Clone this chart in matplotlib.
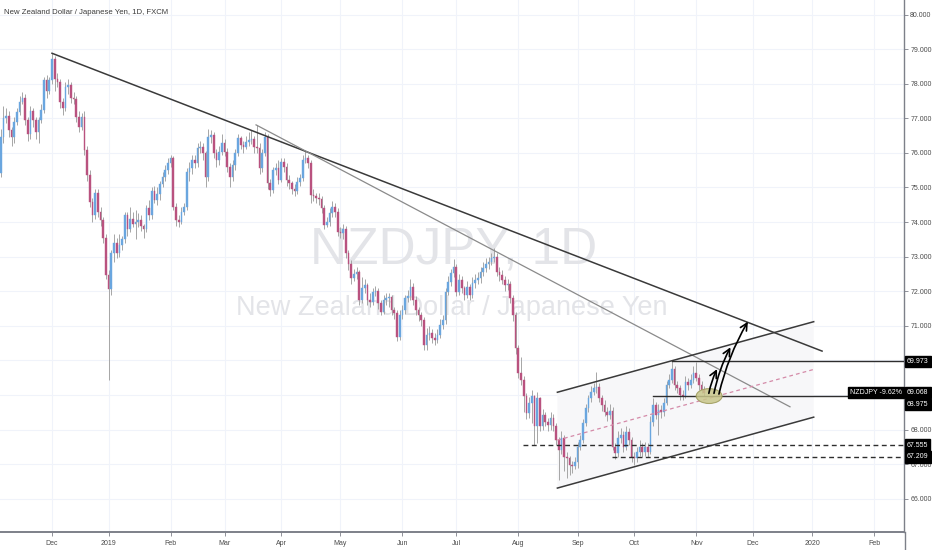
import numpy as np
import pandas as pd
import matplotlib
matplotlib.use("Agg")
import matplotlib.pyplot as plt
import matplotlib.transforms as mtransforms
from matplotlib import font_manager
from matplotlib.patches import Ellipse, FancyArrowPatch, Polygon
from matplotlib.lines import Line2D

# ---------------- data (NZDJPY daily) ----------------
start_date = "2018-11-05"
first_open = 75.20
closes = [
    75.42, 76.46, 77.00, 77.07, 76.66, 76.45, 76.90, 77.18, 77.47, 77.60,
    76.95, 76.55, 77.20, 76.95, 76.60, 76.95, 77.25, 78.10, 77.80, 78.10,
    78.70, 78.15, 78.05, 77.47, 77.30, 77.90, 77.95, 77.60, 77.55, 77.04,
    76.75, 77.04, 76.08, 75.36, 74.58, 74.20, 74.84, 74.30, 74.06, 73.54,
    72.47, 72.06, 73.10, 73.40, 73.10, 73.35, 73.50, 74.20, 73.80, 74.10,
    73.95, 74.00, 74.05, 73.90, 73.80, 74.40, 74.20, 74.90, 74.65, 74.80,
    75.10, 75.30, 75.50, 75.70, 75.85, 74.45, 74.05, 74.00, 74.30, 74.45,
    75.46, 75.55, 75.79, 75.70, 76.13, 76.18, 75.99, 75.31, 76.47, 76.52,
    75.99, 75.79, 76.04, 76.30, 76.04, 75.60, 75.31, 75.65, 75.99, 76.42,
    76.23, 76.18, 76.32, 76.37, 76.40, 76.18, 76.15, 75.55, 75.99, 76.47,
    75.12, 74.93, 75.50, 75.55, 75.22, 75.75, 75.60, 75.22, 75.12, 74.95,
    74.90, 75.17, 75.27, 75.80, 75.85, 75.70, 74.78, 74.75, 74.70, 74.68,
    74.40, 73.92, 74.00, 74.25, 74.45, 74.30, 73.72, 73.68, 73.80, 73.10,
    72.80, 72.37, 72.50, 72.55, 71.75, 72.09, 72.18, 71.75, 71.70, 71.99,
    72.00, 71.65, 71.41, 71.75, 71.80, 71.82, 71.46, 71.36, 70.69, 71.32,
    71.46, 71.80, 71.85, 72.13, 71.75, 71.46, 71.31, 71.17, 70.45, 70.74,
    70.80, 70.64, 70.60, 70.74, 71.03, 71.17, 71.99, 72.28, 72.52, 72.70,
    71.99, 72.33, 72.08, 71.90, 72.13, 71.90, 72.23, 72.33, 72.37, 72.57,
    72.66, 72.80, 72.86, 72.95, 73.00, 72.57, 72.47, 72.33, 72.18, 72.20,
    71.80, 71.30, 70.35, 69.63, 69.44, 68.96, 68.47, 68.76, 68.96, 68.09,
    68.90, 68.09, 68.42, 68.23, 68.13, 68.33, 68.09, 67.70, 67.41, 67.75,
    67.22, 67.17, 66.98, 66.95, 67.05, 67.51, 67.70, 68.18, 68.62, 68.90,
    69.10, 69.20, 69.24, 68.90, 68.71, 68.52, 68.42, 68.55, 67.51, 67.32,
    67.75, 67.85, 67.51, 67.94, 67.70, 67.22, 67.17, 67.36, 67.51, 67.36,
    67.50, 67.36, 68.23, 68.71, 68.42, 68.57, 68.50, 68.76, 69.29, 69.44,
    69.75, 69.29, 69.20, 69.00, 68.98, 69.39, 69.29, 69.44, 69.63, 69.50,
    69.29, 69.15, 69.068,
]
highs = [
    75.60, 76.70, 77.35, 77.30, 77.20, 76.75, 77.05, 77.30, 77.65, 77.75,
    77.70, 77.05, 77.35, 77.30, 77.05, 77.05, 77.40, 78.20, 78.25, 78.20,
    78.88, 78.80, 78.30, 78.15, 77.60, 78.05, 78.15, 78.05, 77.75, 77.65,
    77.20, 77.15, 77.20, 76.20, 75.50, 74.70, 74.95, 74.95, 74.45, 74.15,
    73.65, 72.60, 73.20, 73.65, 73.55, 73.65, 73.60, 74.30, 74.30, 74.45,
    74.30, 74.35, 74.25, 74.20, 73.95, 74.50, 74.65, 75.00, 75.05, 75.00,
    75.20, 75.45, 75.65, 75.85, 75.95, 75.90, 74.55, 74.20, 74.45, 74.55,
    75.55, 75.75, 75.95, 75.95, 76.30, 76.35, 76.30, 76.05, 76.70, 76.65,
    76.60, 76.10, 76.20, 76.55, 76.40, 76.15, 75.70, 75.80, 76.10, 76.55,
    76.50, 76.35, 76.50, 76.60, 76.65, 76.50, 76.80, 76.30, 76.10, 76.60,
    76.55, 75.25, 75.60, 75.70, 75.80, 75.85, 75.85, 75.70, 75.35, 75.20,
    75.10, 75.30, 75.40, 75.95, 76.05, 75.95, 75.80, 74.95, 74.85, 74.85,
    74.75, 74.50, 74.15, 74.40, 74.60, 74.55, 74.40, 73.85, 73.95, 73.90,
    73.20, 72.90, 72.65, 72.70, 72.60, 72.40, 72.35, 72.25, 71.95, 72.10,
    72.15, 72.10, 71.75, 71.90, 71.95, 71.95, 71.90, 71.55, 71.45, 71.45,
    71.60, 71.90, 72.05, 72.35, 72.25, 71.85, 71.55, 71.40, 71.25, 70.95,
    71.00, 70.90, 70.80, 70.90, 71.20, 71.30, 72.10, 72.45, 72.65, 72.92,
    72.80, 72.50, 72.45, 72.15, 72.30, 72.20, 72.40, 72.50, 72.55, 72.70,
    72.85, 72.95, 73.00, 73.10, 73.24, 73.10, 72.70, 72.60, 72.45, 72.35,
    72.30, 71.90, 71.40, 70.45, 70.10, 69.55, 69.05, 68.95, 69.15, 69.00,
    69.10, 68.95, 68.60, 68.50, 68.35, 68.50, 68.45, 68.20, 67.80, 67.95,
    67.85, 67.35, 67.25, 67.10, 67.20, 67.65, 67.85, 68.30, 68.75, 69.00,
    69.25, 69.35, 69.68, 69.35, 69.00, 68.85, 68.65, 68.75, 68.65, 67.60,
    67.95, 68.05, 67.95, 68.10, 68.05, 67.80, 67.35, 67.50, 67.70, 67.60,
    67.65, 67.60, 68.40, 68.90, 68.80, 68.75, 68.70, 68.90, 69.40, 69.60,
    69.97, 69.85, 69.40, 69.30, 69.15, 69.55, 69.50, 69.60, 69.85, 69.95,
    69.60, 69.40, 69.25,
]
lows = [
    75.00, 75.30, 76.30, 76.85, 76.45, 76.20, 76.30, 76.80, 77.10, 77.40,
    76.80, 76.35, 76.40, 76.75, 76.40, 76.30, 76.85, 77.15, 77.60, 77.70,
    78.00, 77.80, 77.90, 77.30, 77.10, 77.20, 77.70, 77.45, 77.40, 76.90,
    76.60, 76.65, 75.95, 75.20, 74.45, 74.00, 74.10, 74.15, 73.90, 73.40,
    72.35, 69.44, 71.90, 72.85, 72.95, 73.00, 73.20, 73.40, 73.60, 73.70,
    73.85, 73.50, 73.85, 73.75, 73.55, 73.70, 74.05, 74.10, 74.55, 74.50,
    74.65, 75.00, 75.20, 75.40, 75.60, 74.35, 73.90, 73.85, 73.95, 74.20,
    74.35, 75.20, 75.40, 75.55, 75.60, 76.00, 75.80, 75.00, 75.20, 76.30,
    75.85, 75.60, 75.65, 75.95, 75.90, 75.45, 75.00, 75.20, 75.50, 75.90,
    76.10, 76.00, 76.10, 76.20, 76.25, 76.00, 76.00, 75.40, 75.45, 75.90,
    74.95, 74.75, 74.85, 75.35, 75.10, 75.15, 75.45, 75.05, 74.95, 74.80,
    74.75, 74.80, 75.05, 75.20, 75.70, 75.55, 74.55, 74.60, 74.55, 74.50,
    74.25, 73.80, 73.85, 73.90, 74.15, 74.15, 73.60, 73.55, 73.50, 72.95,
    72.60, 72.20, 72.30, 72.35, 71.60, 71.65, 71.95, 71.60, 71.55, 71.60,
    71.85, 71.50, 71.30, 71.35, 71.60, 71.55, 71.30, 71.20, 70.55, 70.60,
    71.20, 71.35, 71.70, 71.75, 71.60, 71.30, 71.15, 71.00, 70.30, 70.30,
    70.60, 70.50, 70.45, 70.50, 70.65, 70.90, 71.05, 71.90, 72.15, 72.40,
    71.85, 71.90, 71.95, 71.75, 71.80, 71.75, 71.80, 72.10, 72.20, 72.25,
    72.45, 72.55, 72.65, 72.75, 72.85, 72.45, 72.30, 72.20, 72.00, 72.05,
    71.65, 71.15, 70.20, 69.50, 69.30, 68.50, 68.30, 68.35, 68.20, 67.55,
    67.60, 67.95, 68.00, 68.10, 67.95, 68.00, 67.95, 67.55, 66.55, 67.30,
    66.80, 66.60, 66.70, 66.75, 66.85, 66.90, 67.40, 67.60, 68.10, 68.50,
    68.80, 69.00, 69.05, 68.80, 68.55, 68.40, 68.25, 68.30, 67.40, 67.15,
    67.20, 67.60, 67.35, 67.40, 67.55, 67.05, 66.98, 67.05, 67.25, 67.20,
    67.25, 67.20, 67.30, 68.10, 68.30, 67.85, 68.35, 68.40, 68.70, 69.20,
    69.35, 69.15, 69.05, 68.85, 68.85, 68.90, 69.15, 69.20, 69.35, 69.40,
    69.15, 69.05, 68.98,
]

# drawing tools (bar index, price)
trend_long = [(20.0, 78.88), (305.7, 70.27)]
trend_thin = [(95.7, 76.81), (293.8, 68.66)]
channel_x = [207.5, 302.6]
channel_upper = [69.08, 71.12]
channel_lower = [66.31, 68.36]
h_solid = [(249.9, 69.973), (243.1, 68.975)]
h_dashed = [(194.9, 67.555), (227.9, 67.209)]
ellipse_center = (263.8, 68.97)
arrow_starts = [(263.5, 68.97), (265.4, 68.97), (267.2, 68.95)]
arrow_ends = [(267.2, 69.82), (272.2, 70.45), (278.7, 71.19)]
axis_marks = [("69.973", 69.973, 69.973), ("69.068", 69.068, 69.068),
              ("68.975", 68.975, 68.73), ("67.555", 67.555, 67.555),
              ("67.209", 67.209, 67.209)]
price_ticks = list(range(66, 81))
hidden_ticks = [69, 70]          # covered by the price-axis labels
last_label = "NZDJPY -9.62%"
title = "New Zealand Dollar / Japanese Yen, 1D, FXCM"
wm1 = "NZDJPY, 1D"
wm2 = "New Zealand Dollar / Japanese Yen"

# ---------------- fonts ----------------
names = {f.name for f in font_manager.fontManager.ttflist}
if "Liberation Sans Narrow" in names:
    FONT, narrow = "Liberation Sans Narrow", True
else:
    FONT, narrow = "Liberation Sans", False
plt.rcParams["font.family"] = [FONT, "DejaVu Sans"]
fs_wm1 = 43 if narrow else 37
fs_wm2 = 23 if narrow else 19.5
fs_title = 6.6 if narrow else 5.6
fs_tick = 5.6 if narrow else 5.0

# ---------------- figure ----------------
W, H = 932, 550
fig = plt.figure(figsize=(W / 100, H / 100), dpi=100)
fig.patch.set_facecolor("white")
ax = fig.add_axes([0, 18 / H, 904 / W, 532 / H])
ax.set_facecolor("white")

c = np.array(closes)
o = np.array([first_open] + closes[:-1])
hi = np.maximum(np.array(highs), np.maximum(o, c))
lo = np.minimum(np.array(lows), np.minimum(o, c))
xs = np.arange(len(c))

n_bars = 340
dates = pd.bdate_range(start_date, periods=n_bars)
tick_idx, tick_lab = [], []
for i in range(1, n_bars):
    if dates[i].month != dates[i - 1].month:
        tick_idx.append(i)
        tick_lab.append(str(dates[i].year) if dates[i].month == 1 else dates[i].strftime("%b"))

ax.set_xlim(0.705, 336.1)
ax.set_ylim(65.04, 80.42)

ax.set_xticks(tick_idx)
ax.set_xticklabels(tick_lab)
ax.set_yticks(price_ticks)
ax.set_yticklabels(["" if v in hidden_ticks else f"{v:.3f}" for v in price_ticks])
ax.grid(True, color="#f0f3fa", lw=0.8, zorder=0)
ax.set_axisbelow(True)

# watermark + title
ax.text(0.502, 0.505, wm1, transform=ax.transAxes, ha="center", va="baseline",
        fontsize=fs_wm1, color="#e3e4e8", zorder=1)
ax.text(0.500, 0.408, wm2, transform=ax.transAxes, ha="center", va="baseline",
        fontsize=fs_wm2, color="#e3e4e8", zorder=1)
ax.text(0.0045, 0.9737, title, transform=ax.transAxes, ha="left", va="baseline",
        fontsize=fs_title, color="#3c3c3c", zorder=6)

# channel fill
ax.add_patch(Polygon([(channel_x[0], channel_upper[0]), (channel_x[1], channel_upper[1]),
                      (channel_x[1], channel_lower[1]), (channel_x[0], channel_lower[0])],
                     closed=True, facecolor="#f7f7f9", edgecolor="none", zorder=1.5))

# candles
up = c >= o
colors = np.where(up, "#6aa6df", "#b9527f")
ax.vlines(xs, lo, hi, color="#a6a6a6", lw=0.7, zorder=3)
ax.bar(xs, np.maximum(np.abs(c - o), 0.03), bottom=np.minimum(o, c), width=0.62,
       color=colors, edgecolor=colors, lw=0.3, zorder=4)

# trend lines & channel
(x0, y0), (x1, y1) = trend_long
ax.plot([x0, x1], [y0, y1], color="#3a3a3a", lw=1.1, zorder=5)
(x0, y0), (x1, y1) = trend_thin
ax.plot([x0, x1], [y0, y1], color="#8a8a8a", lw=0.9, zorder=5)
ax.plot(channel_x, channel_upper, color="#3a3a3a", lw=1.1, zorder=5)
ax.plot(channel_x, channel_lower, color="#3a3a3a", lw=1.1, zorder=5)
mid = [(u + l) / 2 for u, l in zip(channel_upper, channel_lower)]
ax.plot(channel_x, mid, color="#d48aa8", lw=0.9, ls=(0, (3, 2.5)), zorder=5)

xr = 336.1
for xs0, lvl in h_solid:
    ax.plot([xs0, xr], [lvl, lvl], color="#2e2e2e", lw=1.0, zorder=5)
for xs0, lvl in h_dashed:
    ax.plot([xs0, xr], [lvl, lvl], color="#2e2e2e", lw=1.0, ls=(0, (3.5, 2.5)), zorder=5)

# ellipse & arrows
ax.add_patch(Ellipse(ellipse_center, 9.6, 0.43, facecolor="#c9c68a", edgecolor="#9d9a5a",
                     lw=0.8, alpha=0.85, zorder=6))
for a, b in zip(arrow_starts, arrow_ends):
    ax.add_patch(FancyArrowPatch(a, b, arrowstyle="->,head_length=0.5,head_width=0.25",
                                 mutation_scale=10, connectionstyle="arc3,rad=-0.08",
                                 color="black", lw=1.2, zorder=7))

# axes styling
for s in ("top", "left"):
    ax.spines[s].set_visible(False)
ax.spines["right"].set_color("#7d8089")
ax.spines["right"].set_linewidth(1.0)
ax.spines["bottom"].set_color("#7d8089")
ax.spines["bottom"].set_linewidth(1.4)
ax.yaxis.tick_right()
ax.tick_params(axis="y", length=3, width=0.6, color="#7d8089", labelsize=fs_tick,
               labelcolor="#4a4a4a", pad=1.5)
ax.tick_params(axis="x", length=3, width=0.6, color="#7d8089", labelsize=fs_tick,
               labelcolor="#4a4a4a", pad=3)
fig.add_artist(Line2D([904.5 / W, 904.5 / W], [0, 18 / H], color="#7d8089", lw=1.0))

# price-axis labels
blend = mtransforms.blended_transform_factory(ax.transAxes, ax.transData)
for txt, _, ypos in axis_marks:
    ax.text(1.0 + 3 / 904, ypos, txt, transform=blend, ha="left", va="center", fontsize=fs_tick,
            color="white", clip_on=False, zorder=10,
            bbox=dict(boxstyle="square,pad=0.3", fc="black", ec="black"))
ax.text(1.0 - 2 / 904, 69.068, last_label, transform=blend, ha="right", va="center",
        fontsize=fs_tick, color="white", clip_on=False, zorder=10,
        bbox=dict(boxstyle="square,pad=0.3", fc="black", ec="black"))

fig.savefig("out.png", dpi=100, facecolor="white")
